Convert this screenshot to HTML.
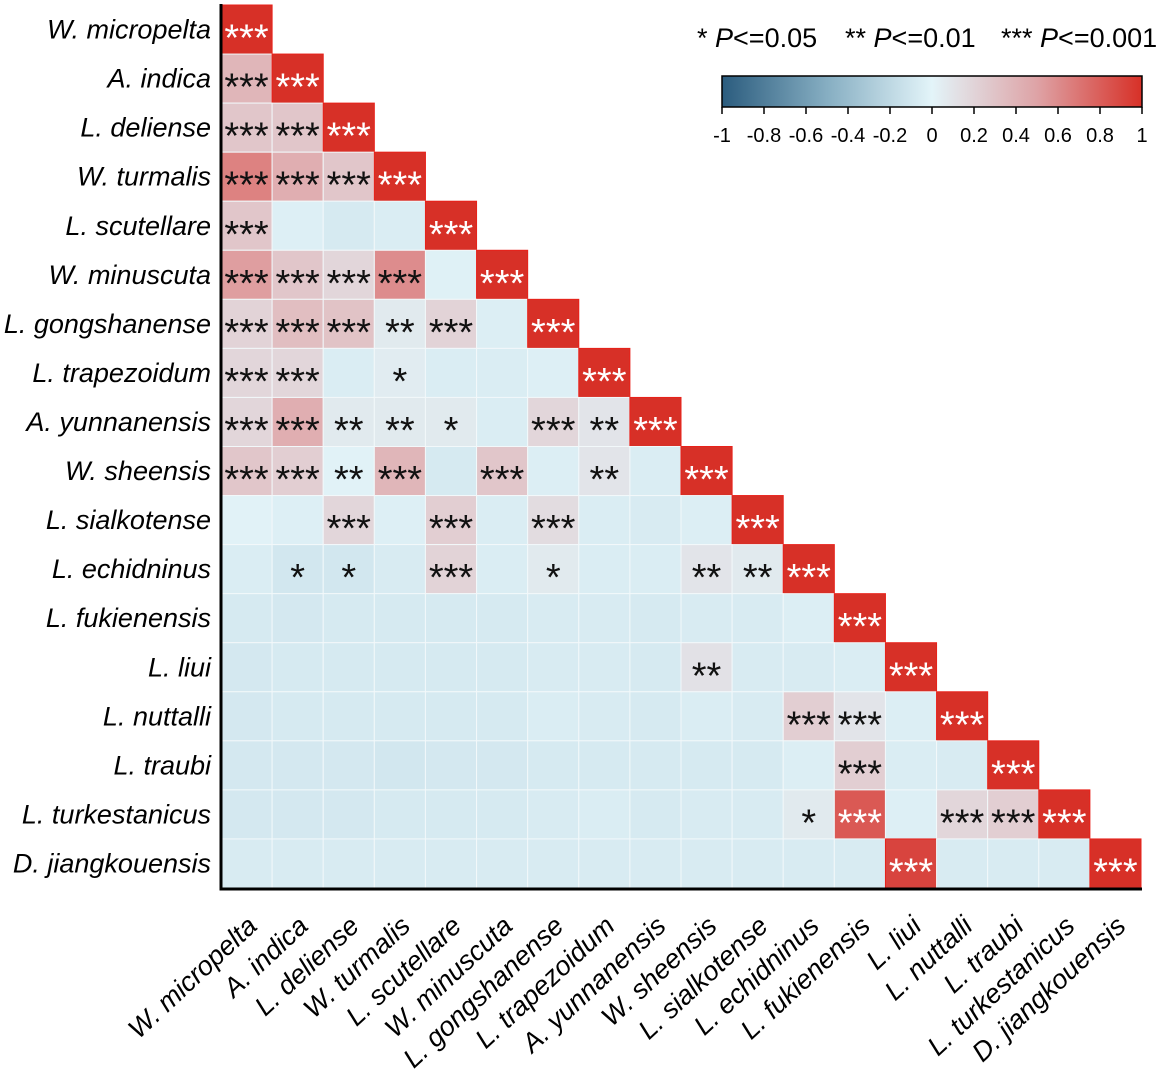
<!DOCTYPE html>
<html><head><meta charset="utf-8"><style>
body{margin:0;background:#fff;}
svg{display:block;font-family:"Liberation Sans",Arial,sans-serif;}
</style></head><body>
<svg id="chart" width="1169" height="1091" viewBox="0 0 1169 1091" xmlns="http://www.w3.org/2000/svg">
<defs>
<linearGradient id="cbar" x1="0" x2="1" y1="0" y2="0">
<stop offset="0" stop-color="#2b5c7e"/>
<stop offset="0.25" stop-color="#86aec2"/>
<stop offset="0.5" stop-color="#e3f4f9"/>
<stop offset="0.75" stop-color="#dea3a6"/>
<stop offset="1" stop-color="#d73027"/>
</linearGradient>
</defs>
<g id="cells"></g>
<g id="ylabels"></g>
<g id="xlabels"></g>
<line x1="221" y1="4" x2="221" y2="890" stroke="#000" stroke-width="3"/>
<line x1="219.5" y1="889" x2="1142" y2="889" stroke="#000" stroke-width="3"/>
<g font-size="27">
<text x="697" y="47">* <tspan font-style="italic">P</tspan>&lt;=0.05</text>
<text x="845" y="47">** <tspan font-style="italic">P</tspan>&lt;=0.01</text>
<text x="1001" y="47">*** <tspan font-style="italic">P</tspan>&lt;=0.001</text>
</g>
<rect x="722" y="76" width="420" height="31" fill="url(#cbar)" stroke="#000" stroke-width="1.5"/>
<g id="cticks"></g>
</svg>
<script>
const labels=["W. micropelta","A. indica","L. deliense","W. turmalis","L. scutellare","W. minuscuta","L. gongshanense","L. trapezoidum","A. yunnanensis","W. sheensis","L. sialkotense","L. echidninus","L. fukienensis","L. liui","L. nuttalli","L. traubi","L. turkestanicus","D. jiangkouensis"];
const corr=[
[1],
[0.3,1],
[0.2,0.2,1],
[0.6,0.35,0.2,1],
[0.2,-0.02,-0.06,-0.04,1],
[0.45,0.2,0.1,0.55,-0.01,1],
[0.12,0.25,0.22,0.03,0.12,-0.03,1],
[0.1,0.1,-0.04,0.02,-0.04,-0.04,-0.02,1],
[0.1,0.35,0.03,0.03,0.03,-0.04,0.1,0.05,1],
[0.2,0.15,0.0,0.3,-0.06,0.2,-0.03,0.05,-0.04,1],
[0.0,-0.02,0.1,-0.02,0.15,-0.04,0.08,-0.04,-0.05,-0.03,1],
[-0.04,-0.08,-0.08,-0.05,0.12,-0.04,0.03,-0.04,-0.04,0.05,0.03,1],
[-0.06,-0.07,-0.06,-0.06,-0.06,-0.06,-0.05,-0.05,-0.06,-0.05,-0.05,-0.03,1],
[-0.07,-0.06,-0.06,-0.06,-0.06,-0.06,-0.05,-0.05,-0.06,0.06,-0.05,-0.05,-0.04,1],
[-0.07,-0.06,-0.06,-0.06,-0.06,-0.06,-0.04,-0.05,-0.06,-0.04,-0.05,0.15,0.05,-0.03,1],
[-0.07,-0.07,-0.07,-0.08,-0.07,-0.07,-0.06,-0.06,-0.06,-0.06,-0.06,-0.03,0.15,-0.04,-0.05,1],
[-0.07,-0.07,-0.07,-0.06,-0.06,-0.06,-0.05,-0.04,-0.06,-0.05,-0.05,0.03,0.8,-0.02,0.1,0.15,1],
[-0.05,-0.05,-0.05,-0.05,-0.05,-0.05,-0.05,-0.05,-0.05,-0.05,-0.05,-0.05,-0.05,0.9,-0.05,-0.05,-0.05,1]
];
const sig=[
["***"],
["***","***"],
["***","***","***"],
["***","***","***","***"],
["***","","","","***"],
["***","***","***","***","","***"],
["***","***","***","**","***","","***"],
["***","***","","*","","","","***"],
["***","***","**","**","*","","***","**","***"],
["***","***","**","***","","***","","**","","***"],
["","","***","","***","","***","","","","***"],
["","*","*","","***","","*","","","**","**","***"],
["","","","","","","","","","","","","***"],
["","","","","","","","","","**","","","","***"],
["","","","","","","","","","","","***","***","","***"],
["","","","","","","","","","","","","***","","","***"],
["","","","","","","","","","","","*","***","","***","***","***"],
["","","","","","","","","","","","","","***","","","","***"]
];
const tickVals=[-1,-0.8,-0.6,-0.4,-0.2,0,0.2,0.4,0.6,0.8,1];
const tickLabels=["-1","-0.8","-0.6","-0.4","-0.2","0","0.2","0.4","0.6","0.8","1"];

const NS="http://www.w3.org/2000/svg";
const x0=221,y0=5,cw=920/18,ch=883/18;
function xs(j){return x0+j*cw;}
function ys(i){return y0+i*ch;}
const stops=[[-1,[43,92,126]],[-0.5,[134,174,194]],[0,[225,242,247]],[0.1,[226,214,218]],[0.5,[222,150,152]],[1,[215,48,39]]];
function color(v){
  for(let k=0;k<stops.length-1;k++){
    const a=stops[k],b=stops[k+1];
    if(v<=b[0]){const t=(v-a[0])/(b[0]-a[0]);
      const c=a[1].map((c0,m)=>Math.round(c0+(b[1][m]-c0)*t));
      return `rgb(${c[0]},${c[1]},${c[2]})`;}
  }
  return "rgb(215,48,39)";
}
const cells=document.getElementById('cells');
for(let i=0;i<corr.length;i++){
  for(let j=0;j<corr[i].length;j++){
    const v=corr[i][j];
    const r=document.createElementNS(NS,'rect');
    
    
    r.setAttribute('x',xs(j));r.setAttribute('y',ys(i));
    r.setAttribute('width',cw);r.setAttribute('height',ch);
    r.setAttribute('fill',color(v));
    r.setAttribute('stroke',v>0.85?'#e8211a':'#f2f8fa');r.setAttribute('stroke-width','1');
    cells.appendChild(r);
    const s=sig[i][j];
    if(s){
      const t=document.createElementNS(NS,'text');
      
      
      t.setAttribute('x',xs(j)+cw/2);t.setAttribute('y',ys(i)+ch/2+21);
      t.setAttribute('text-anchor','middle');t.setAttribute('font-size','38');
      t.setAttribute('fill',v>0.7?'#fff':'#111');
      t.textContent=s;cells.appendChild(t);
    }
  }
}
const yl=document.getElementById('ylabels'),xl=document.getElementById('xlabels');
labels.forEach((lab,i)=>{
  const t=document.createElementNS(NS,'text');
  
  
  t.setAttribute('x',211);t.setAttribute('y',ys(i)+ch/2+9);
  t.setAttribute('text-anchor','end');t.setAttribute('font-size','27');t.setAttribute('font-style','italic');
  t.textContent=lab;yl.appendChild(t);
  const u=document.createElementNS(NS,'text');
  
  
  const cx=xs(i)+cw/2+12;
  u.setAttribute('transform',`translate(${cx},${928}) rotate(-43)`);
  u.setAttribute('text-anchor','end');u.setAttribute('font-size','27');u.setAttribute('font-style','italic');
  u.textContent=lab;xl.appendChild(u);
});
const ct=document.getElementById('cticks');
tickVals.forEach((v,k)=>{
  const x=722+(v+1)/2*420;
  const l=document.createElementNS(NS,'line');
  
  
  l.setAttribute('x1',x);l.setAttribute('x2',x);l.setAttribute('y1',107);l.setAttribute('y2',114);
  l.setAttribute('stroke','#000');l.setAttribute('stroke-width','1.5');ct.appendChild(l);
  const t=document.createElementNS(NS,'text');
  
  
  t.setAttribute('x',x);t.setAttribute('y',142);t.setAttribute('text-anchor','middle');t.setAttribute('font-size','20');
  t.textContent=tickLabels[k];ct.appendChild(t);
});
</script>
</body></html>
